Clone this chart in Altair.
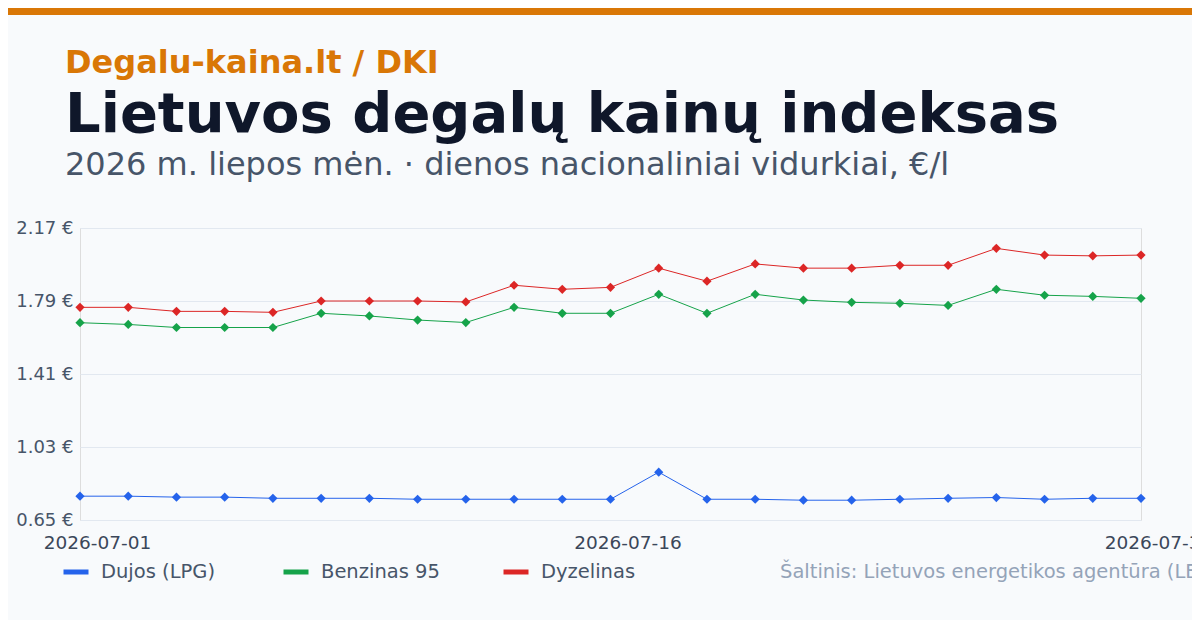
import altair as alt
import pandas as pd

# ---- data ----
dates = [
    "2026-07-01", "2026-07-02", "2026-07-03",
    "2026-07-06", "2026-07-07", "2026-07-08", "2026-07-09", "2026-07-10",
    "2026-07-13", "2026-07-14", "2026-07-15", "2026-07-16", "2026-07-17",
    "2026-07-20", "2026-07-21", "2026-07-22", "2026-07-23", "2026-07-24",
    "2026-07-27", "2026-07-28", "2026-07-29", "2026-07-30", "2026-07-31",
]
lpg = [0.774, 0.774, 0.769, 0.769, 0.763, 0.763, 0.763, 0.758, 0.758, 0.758,
       0.758, 0.758, 0.899, 0.758, 0.758, 0.753, 0.753, 0.758, 0.763, 0.767,
       0.758, 0.763, 0.763]
benzinas = [1.677, 1.668, 1.652, 1.652, 1.652, 1.726, 1.712, 1.691, 1.678, 1.757,
            1.726, 1.726, 1.825, 1.726, 1.825, 1.795, 1.783, 1.778, 1.767, 1.851,
            1.820, 1.814, 1.804]
dyzelinas = [1.757, 1.757, 1.736, 1.736, 1.731, 1.790, 1.790, 1.790, 1.785, 1.872,
             1.851, 1.861, 1.961, 1.893, 1.983, 1.961, 1.961, 1.976, 1.976, 2.064,
             2.029, 2.025, 2.029]
series_names = ["Dujos (LPG)", "Benzinas 95", "Dyzelinas"]
series_colors = ["#2563eb", "#16a34a", "#dc2626"]
y_ticks = [0.65, 1.03, 1.41, 1.79, 2.17]
x_label_dates = ["2026-07-01", "2026-07-16", "2026-07-31"]

kicker = "Degalu-kaina.lt / DKI"
title = "Lietuvos degalų kainų indeksas"
subtitle = "2026 m. liepos mėn. · dienos nacionaliniai vidurkiai, €/l"
source = "Šaltinis: Lietuvos energetikos agentūra (LEA)"

rows = []
for name, vals in zip(series_names, [lpg, benzinas, dyzelinas]):
    for d, v in zip(dates, vals):
        rows.append({"date": d, "value": v, "series": name})
df = pd.DataFrame(rows)

FONT = "DejaVu Sans"
W, H = 1061, 292

x_enc = alt.X(
    "date:O",
    sort=dates,
    scale=alt.Scale(type="point", padding=0),
    axis=alt.Axis(
        values=x_label_dates, labelAngle=0, title=None, domain=False, ticks=False,
        grid=False, labelFontSize=18.5, labelColor="#3b475a", labelFont=FONT,
        labelBaseline="alphabetic", labelPadding=28, labelOffset=17,
        labelOverlap=False,
    ),
)
y_enc = alt.Y(
    "value:Q",
    scale=alt.Scale(domain=[0.65, 2.17], nice=False, zero=False),
    axis=alt.Axis(
        values=y_ticks, title=None, domain=False, ticks=False, grid=True,
        gridColor="#e2e8f0", gridWidth=1, labelFontSize=18, labelColor="#475569",
        labelFont=FONT, labelPadding=7,
        labelExpr="format(datum.value, '.2f') + ' €'",
    ),
)
color_enc = alt.Color(
    "series:N",
    scale=alt.Scale(domain=series_names, range=series_colors),
    sort=series_names,
    legend=alt.Legend(
        title=None, orient="none", legendX=-19, legendY=329, direction="horizontal",
        symbolType="stroke", symbolSize=625, symbolStrokeWidth=5,
        labelFontSize=19.5, labelColor="#475569", labelFont=FONT, labelOffset=10,
        columnPadding=53, gridAlign="all", padding=0, labelLimit=300,
    ),
)

base = alt.Chart(df)
lines = base.mark_line(strokeWidth=1).encode(x=x_enc, y=y_enc, color=color_enc)
points = base.mark_point(shape="diamond", filled=True, size=85, opacity=1).encode(
    x=x_enc, y=y_enc, color=color_enc
)

one = pd.DataFrame({"k": [0]})
bar = alt.Chart(one).mark_rect(color="#d97706").encode(
    x=alt.value(-72), x2=alt.value(1130), y=alt.value(-220), y2=alt.value(-213)
)
t_kicker = alt.Chart(one).mark_text(
    text=kicker, font=FONT, fontSize=32, fontWeight="bold", color="#d97706",
    align="left", baseline="alphabetic",
).encode(x=alt.value(-15), y=alt.value(-155.3))
t_title = alt.Chart(one).mark_text(
    text=title, font=FONT, fontSize=56, fontWeight="bold", color="#0f172a",
    align="left", baseline="alphabetic",
).encode(x=alt.value(-15), y=alt.value(-96.3))
t_sub = alt.Chart(one).mark_text(
    text=subtitle, font=FONT, fontSize=32, color="#475569",
    align="left", baseline="alphabetic",
).encode(x=alt.value(-15), y=alt.value(-53))
t_source = alt.Chart(one).mark_text(
    text=source, font=FONT, fontSize=19.5, color="#94a3b8",
    align="left", baseline="alphabetic",
).encode(x=alt.value(700), y=alt.value(349.5))

chart = alt.layer(bar, t_kicker, t_title, t_sub, lines, points, t_source).properties(
    width=W, height=H,
    background="#f8fafc",
    padding={"left": 72, "top": 220, "right": 51, "bottom": 100},
    autosize=alt.AutoSizeParams(type="none"),
).configure_view(fill="white", stroke="transparent", strokeWidth=0).configure(font=FONT)

chart.save("out.html", embed_options={"renderer": "svg", "actions": False})
